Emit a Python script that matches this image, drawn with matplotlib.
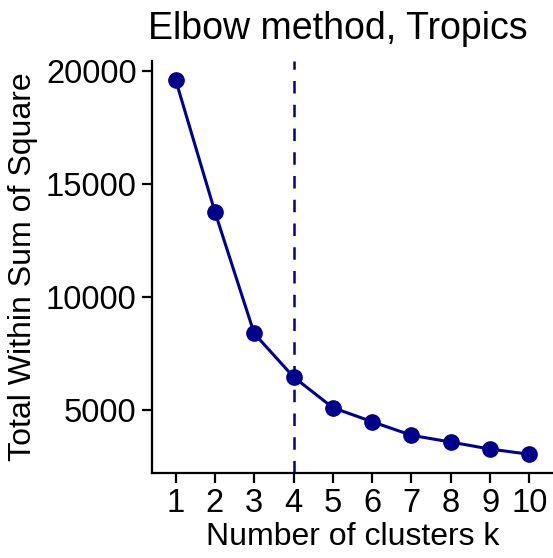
import matplotlib
matplotlib.use("Agg")
import matplotlib.pyplot as plt

# numero de clusters y suma de cuadrados dentro de los clusters
k = [1, 2, 3, 4, 5, 6, 7, 8, 9, 10]
wss = [19600, 13760, 8380, 6460, 5100, 4480, 3880, 3580, 3270, 3040]
k_opt = 4
yticks = [5000, 10000, 15000, 20000]

plt.rcParams['font.family'] = ['Liberation Sans', 'DejaVu Sans']

fig = plt.figure(figsize=(5.53, 5.58), dpi=100)
ax = fig.add_axes([152 / 553, 1 - 473 / 558, 401 / 553, 412 / 558])

ax.plot(k, wss, color='#00008B', lw=2.2, marker='o', ms=11, zorder=3)
ax.axvline(k_opt, color='#00008B', lw=1.8, ls=(0, (5, 4.5)))

ax.set_xlim(0.4, 10.6)
ymin, ymax = min(wss), max(wss)
pad = (ymax - ymin) * 0.05
ax.set_ylim(ymin - pad, ymax + pad)
ax.set_xticks(k)
ax.set_yticks(yticks)

for s in ['top', 'right']:
    ax.spines[s].set_visible(False)
for s in ['left', 'bottom']:
    ax.spines[s].set_linewidth(1.6)
ax.tick_params(width=1.6, length=7, labelsize=23.5, color='black', pad=4)

ax.set_xlabel('Number of clusters k', fontsize=23, labelpad=2)
ax.set_ylabel('Total Within Sum of Square', fontsize=23, labelpad=6)
ax.set_title('Elbow method, Tropics', fontsize=27, loc='left', pad=16, x=-0.01)

fig.savefig('out.png', dpi=100)
